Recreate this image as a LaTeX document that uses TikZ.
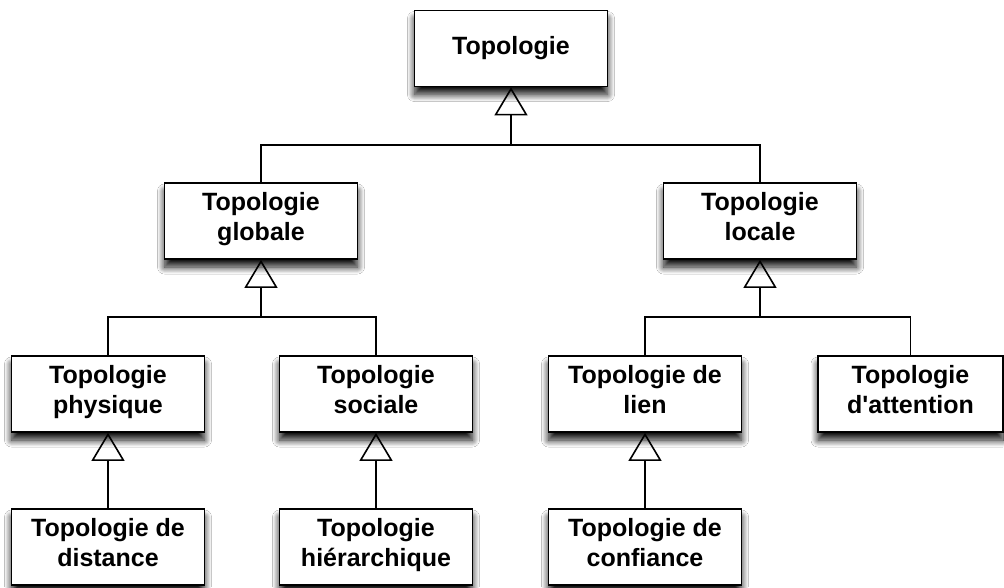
\documentclass[tikz,border=0pt]{standalone}
\usepackage{fontspec}
\setmainfont{Liberation Sans}
\usetikzlibrary{arrows.meta,shadows.blur}

\tikzset{
  cls/.style={draw=black, line width=1.7pt, fill=white,
    minimum width=193pt, minimum height=76pt, inner sep=0pt,
    align=center, font=\fontsize{25}{30}\selectfont\bfseries,
    execute at begin node=\strut, execute at end node=\strut,
    blur shadow={shadow xshift=0pt, shadow yshift=-8pt,
      shadow blur radius=7pt, shadow blur steps=16, shadow opacity=95}},
  link/.style={draw=black, line width=1.6pt},
  inherit/.style={link, -{Triangle[open, length=28pt, width=33pt, line width=1.6pt]}}
}

\begin{document}
\begin{tikzpicture}[x=1pt, y=-1pt]
  \useasboundingbox[fill=white] (0,0) rectangle (1004,587);

  % class boxes
  \node[cls] (top)  at (511,48.5) {Topologie};
  \node[cls] (glob) at (261,221)  {Topologie\\globale};
  \node[cls] (loc)  at (760,221)  {Topologie\\locale};
  \node[cls] (phys) at (108,394)  {Topologie\\physique};
  \node[cls] (soc)  at (376,394)  {Topologie\\sociale};
  \node[cls] (lien) at (645,394)  {Topologie de\\lien};
  \node[cls, minimum width=185pt] (att) at (910.5,394) {Topologie\\d\textquotesingle attention};
  \node[cls] (dist) at (108,547)  {Topologie de\\distance};
  \node[cls] (hier) at (376,547)  {Topologie\\hiérarchique};
  \node[cls] (conf) at (645,547)  {Topologie de\\confiance};

  % junction points of the inheritance trees
  \coordinate (jtop)  at (511,145);
  \coordinate (jglob) at (261,317);
  \coordinate (jloc)  at (760,317);

  % Topologie <- globale, locale
  \draw[inherit] (jtop) -- (top.south);
  \draw[link] (glob.north) |- (jtop);
  \draw[link] (loc.north)  |- (jtop);

  % globale <- physique, sociale
  \draw[inherit] (jglob) -- (glob.south);
  \draw[link] (phys.north) |- (jglob);
  \draw[link] (soc.north)  |- (jglob);

  % locale <- lien, attention
  \draw[inherit] (jloc) -- (loc.south);
  \draw[link] (lien.north) |- (jloc);
  \draw[link] (att.north)  |- (jloc);

  % leaf classes
  \draw[inherit] (dist.north) -- (phys.south);
  \draw[inherit] (hier.north) -- (soc.south);
  \draw[inherit] (conf.north) -- (lien.south);
\end{tikzpicture}
\end{document}
